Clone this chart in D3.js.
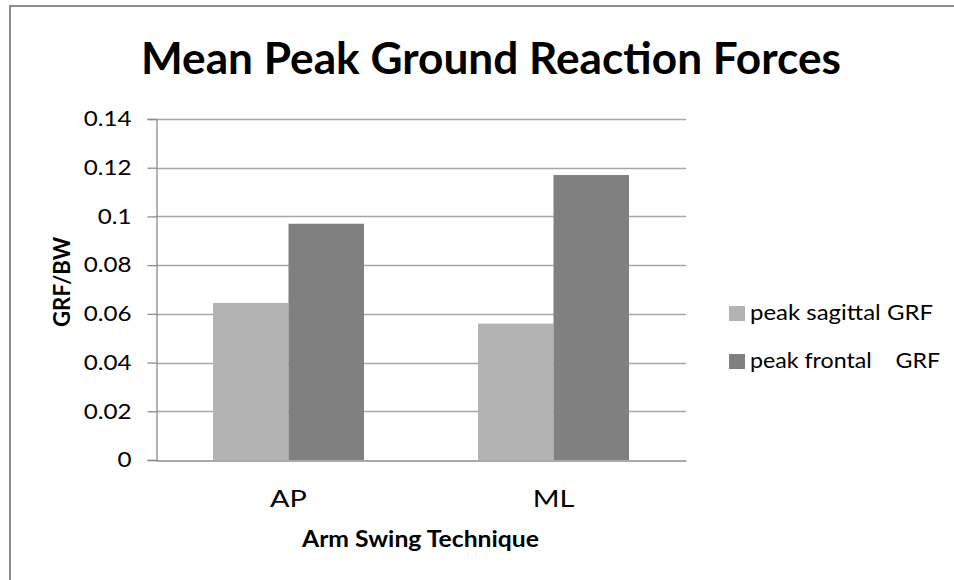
<!DOCTYPE html>
<html>
<head>
<meta charset="utf-8">
<script src="https://cdn.jsdelivr.net/npm/d3@7"></script>
<style>
  html, body { margin: 0; padding: 0; background: #fff; }
  svg { display: block; }
  text { font-family: Lato, "Open Sans", "Liberation Sans", sans-serif; fill: #000; }
</style>
</head>
<body>
<svg id="chart" width="954" height="580"></svg>
<script>
// ---- data ----
const categories = ["AP", "ML"];
const seriesNames = ["peak sagittal GRF", "peak frontal    GRF"];
const sagittalValues = [0.0645, 0.056];
const frontalValues = [0.097, 0.117];
const yTicks = [0, 0.02, 0.04, 0.06, 0.08, 0.1, 0.12, 0.14];
const titleText = "Mean Peak Ground Reaction Forces";
const xTitleText = "Arm Swing Technique";
const yTitleText = "GRF/BW";
const seriesColors = ["#b3b3b3", "#808080"];

const seriesValues = [sagittalValues, frontalValues];
const rows = categories.map((c, i) => ({
  cat: c,
  vals: seriesNames.map((s, j) => ({ s, v: seriesValues[j][i], j }))
}));

const svg = d3.select("#chart");
const W = 954, H = 580;
const plot = { left: 156, right: 686, top: 119, bottom: 460 };

function fit(sel, w) {
  sel.attr("textLength", w).attr("lengthAdjust", "spacingAndGlyphs");
  return sel;
}

svg.append("rect").attr("width", W).attr("height", H).attr("fill", "#fff");
svg.append("rect")
  .attr("x", 10).attr("y", 6).attr("width", W + 20).attr("height", H + 20)
  .attr("fill", "none").attr("stroke", "#8c8c8c").attr("stroke-width", 2);

const y = d3.scaleLinear().domain([0, 0.14]).range([plot.bottom, plot.top]);
const x0 = d3.scaleBand().domain(categories).range([plot.left, plot.right]).padding(0);
const x1 = d3.scaleBand().domain(seriesNames).range([0, x0.bandwidth()])
  .paddingInner(0).paddingOuter(0.755);

svg.append("g").selectAll("line").data(yTicks.filter(t => t > 0)).join("line")
  .attr("x1", plot.left).attr("x2", plot.right)
  .attr("y1", d => Math.round(y(d)) + 0.5).attr("y2", d => Math.round(y(d)) + 0.5)
  .attr("stroke", "#a6a6a6").attr("stroke-width", 1.3);

const g = svg.append("g");
g.selectAll("g").data(rows).join("g")
  .attr("transform", d => `translate(${x0(d.cat)},0)`)
  .selectAll("rect").data(d => d.vals).join("rect")
  .attr("x", d => x1(d.s)).attr("width", x1.bandwidth())
  .attr("y", d => y(d.v)).attr("height", d => y(0) - y(d.v))
  .attr("fill", d => seriesColors[d.j]);

const yAxis = d3.axisLeft(y).tickValues(yTicks).tickSize(9).tickPadding(16)
  .tickFormat(d => d === 0 ? "0" : d3.format("")(+d.toFixed(2)));
const ya = svg.append("g").attr("transform", `translate(${plot.left + 0.5},0)`).call(yAxis);
ya.select(".domain").attr("stroke", "#8c8c8c").attr("stroke-width", 1.3);
ya.selectAll(".tick line").attr("stroke", "#8c8c8c").attr("stroke-width", 1.3);
ya.selectAll(".tick text").attr("font-size", 21).attr("fill", "#000")
  .style("font-family", "Lato, 'Open Sans', sans-serif")
  .each(function () {
    const len = this.getComputedTextLength();
    fit(d3.select(this), len * 1.15);
  });

const xAxis = d3.axisBottom(x0).tickSize(0).tickPadding(30);
const xa = svg.append("g").attr("transform", `translate(0,${plot.bottom + 0.5})`).call(xAxis);
xa.select(".domain").attr("stroke", "#8c8c8c").attr("stroke-width", 1.3);
xa.selectAll(".tick text").attr("font-size", 24).attr("fill", "#000")
  .style("font-family", "Lato, 'Open Sans', sans-serif")
  .attr("dy", 0).attr("y", 46)
  .each(function () {
    const len = this.getComputedTextLength();
    fit(d3.select(this), len * 1.2);
  });

fit(svg.append("text").attr("x", (141 + 841) / 2).attr("y", 74)
  .attr("text-anchor", "middle").attr("font-size", 43).attr("font-weight", 700)
  .text(titleText), 700);

fit(svg.append("text").attr("x", (302 + 539) / 2).attr("y", 547)
  .attr("text-anchor", "middle").attr("font-size", 22).attr("font-weight", 700)
  .text(xTitleText), 237);

fit(svg.append("text").attr("transform", `translate(70,${(237 + 327) / 2}) rotate(-90)`)
  .attr("text-anchor", "middle").attr("font-size", 23).attr("font-weight", 700)
  .text(yTitleText), 90);

const legendWidths = [183, 190];
const leg = svg.append("g").selectAll("g").data(seriesNames).join("g")
  .attr("transform", (d, i) => `translate(729,${306 + i * 48})`);
leg.append("rect").attr("width", 16).attr("height", 15)
  .attr("fill", (d, i) => seriesColors[i]);
leg.each(function (d, i) {
  fit(d3.select(this).append("text").attr("x", 21).attr("y", 14)
    .attr("font-size", 22).attr("xml:space", "preserve")
    .style("white-space", "pre").text(d), legendWidths[i]);
});
</script>
</body>
</html>
